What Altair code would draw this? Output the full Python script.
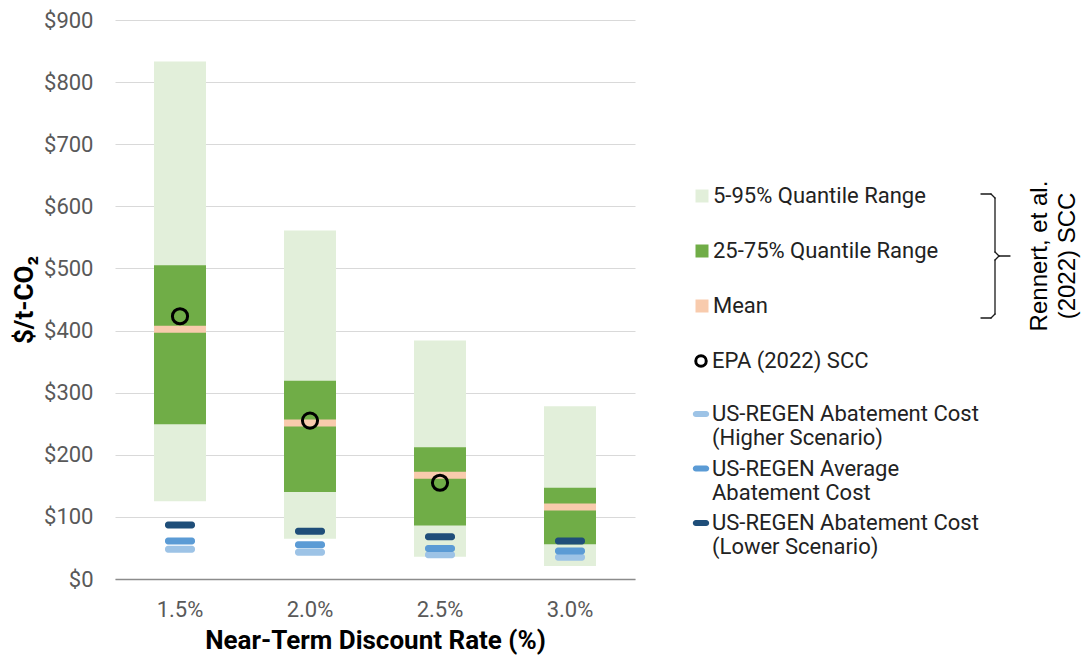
import altair as alt
import pandas as pd

# ---------------- data ----------------
rates = ["1.5%", "2.0%", "2.5%", "3.0%"]
q05 = [125, 65, 36, 21]
q95 = [833, 561, 384, 278]
q25 = [249, 140, 86, 56]
q75 = [505, 319, 212, 147]
mean_scc = [402, 251, 167, 116]

epa_rates = ["1.5%", "2.0%", "2.5%"]
epa_scc = [423, 255, 155]

regen_higher = [48, 43, 39, 35]
regen_average = [61, 55, 49, 45]
regen_lower = [87, 77, 68, 61]

y_ticks = [0, 100, 200, 300, 400, 500, 600, 700, 800, 900]

S_OUT = "5-95% Quantile Range"
S_IN = "25-75% Quantile Range"
S_MEAN = "Mean"
S_EPA = "EPA (2022) SCC"
B_HI = "US-REGEN Abatement Cost|(Higher Scenario)"
B_AVG = "US-REGEN Average|Abatement Cost"
B_LO = "US-REGEN Abatement Cost|(Lower Scenario)"

outer = pd.DataFrame({"rate": rates, "low": q05, "high": q95, "series": S_OUT})
inner = pd.DataFrame({"rate": rates, "low": q25, "high": q75, "series": S_IN})
mean_df = pd.DataFrame({"rate": rates, "low": mean_scc, "series": S_MEAN})
epa_df = pd.DataFrame({"rate": epa_rates, "low": epa_scc, "series": S_EPA})
regen_df = pd.concat([
    pd.DataFrame({"rate": rates, "low": regen_higher, "series": B_HI}),
    pd.DataFrame({"rate": rates, "low": regen_average, "series": B_AVG}),
    pd.DataFrame({"rate": rates, "low": regen_lower, "series": B_LO}),
], ignore_index=True)
dummy = pd.DataFrame({"k": [0]})

FONT = "Roboto"
LEG_FONT_SIZE = 22

fill_scale = alt.Scale(domain=[S_OUT, S_IN, S_MEAN],
                       range=["#E2EFDA", "#70AD47", "#F8CBAD"])
color_scale = alt.Scale(domain=[B_HI, B_AVG, B_LO],
                        range=["#9DC3E6", "#5B9BD5", "#1F4E79"])
stroke_scale = alt.Scale(domain=[S_EPA], range=["#000000"])

x_axis = alt.Axis(title="Near-Term Discount Rate (%)", labelAngle=0, ticks=False,
                  domainColor="#8c8c8c", domainWidth=1.5,
                  labelFont=FONT, labelFontSize=22, labelColor="#595959", labelPadding=20,
                  titleFont=FONT, titleFontSize=26, titleFontWeight="bold",
                  titleColor="#000000", titlePadding=7)
x_enc = alt.X("rate:N", sort=rates,
              scale=alt.Scale(domain=rates, paddingInner=0.6, paddingOuter=0.3),
              axis=x_axis)

y_axis = alt.Axis(title="$/t-CO₂", values=y_ticks, labelExpr="'$' + datum.value",
                  domain=False, ticks=False, grid=True, gridColor="#D9D9D9", gridWidth=1,
                  labelFont=FONT, labelFontSize=22, labelColor="#595959", labelPadding=22,
                  titleFont=FONT, titleFontSize=26, titleFontWeight="bold",
                  titleColor="#000000", titlePadding=6)
y_scale = alt.Scale(domain=[0, 900], nice=False)


def yq():
    return alt.Y("low:Q", scale=y_scale, axis=y_axis)


fill_legend = alt.Legend(title=None, orient="none", legendX=576, legendY=165,
                         symbolType="square", symbolSize=169, symbolStrokeWidth=0,
                         symbolOpacity=1,
                         labelFont=FONT, labelFontSize=LEG_FONT_SIZE, labelColor="#222222",
                         labelOffset=0, labelLimit=500, rowPadding=33, padding=0)
stroke_legend = alt.Legend(title=None, orient="none", legendX=575, legendY=330,
                           symbolType="circle", symbolSize=110, symbolStrokeWidth=3,
                           symbolFillColor="transparent", symbolOpacity=1,
                           labelFont=FONT, labelFontSize=LEG_FONT_SIZE, labelColor="#222222",
                           labelOffset=0, labelLimit=500, padding=0)
pill = ("M-0.6,-0.36 H0.6 A0.36,0.36 0 0 1 0.6,0.36 H-0.6 "
        "A0.36,0.36 0 0 1 -0.6,-0.36 Z")
color_legend = alt.Legend(title=None, orient="none", legendX=575, legendY=383,
                          symbolType=pill, symbolSize=289, symbolStrokeWidth=0,
                          symbolOpacity=1,
                          labelFont=FONT, labelFontSize=LEG_FONT_SIZE, labelColor="#222222",
                          labelExpr="split(datum.label, '|')",
                          labelOffset=0, labelLimit=500, rowPadding=8.5, padding=0)

outer_bar = alt.Chart(outer).mark_bar(opacity=1).encode(
    x=x_enc, y=yq(), y2="high:Q",
    fill=alt.Fill("series:N", scale=fill_scale, legend=fill_legend))
inner_bar = alt.Chart(inner).mark_bar(opacity=1).encode(
    x=x_enc, y=yq(), y2="high:Q",
    fill=alt.Fill("series:N", scale=fill_scale, legend=fill_legend))
mean_tick = alt.Chart(mean_df).mark_tick(size=52, thickness=7, opacity=1).encode(
    x=x_enc, y=yq(),
    fill=alt.Fill("series:N", scale=fill_scale, legend=fill_legend))
epa_pt = alt.Chart(epa_df).mark_point(filled=False, size=230, strokeWidth=3, opacity=1).encode(
    x=x_enc, y=yq(),
    stroke=alt.Stroke("series:N", scale=stroke_scale, legend=stroke_legend))
regen_tick = alt.Chart(regen_df).mark_tick(size=30, thickness=7, cornerRadius=3, opacity=1).encode(
    x=x_enc, y=yq(),
    color=alt.Color("series:N", scale=color_scale, legend=color_legend),
    order=alt.Order("series:N", sort="ascending"))


def seg(x1, y1, x2, y2):
    return alt.Chart(dummy).mark_rule(color="#1a1a1a", strokeWidth=1.3, strokeCap="round").encode(
        x=alt.value(x1), y=alt.value(y1), x2=alt.value(x2), y2=alt.value(y2))


brace = [
    seg(866, 174, 876, 174), seg(876, 174, 880, 178), seg(880, 178, 880, 232),
    seg(880, 232, 884, 236), seg(884, 236, 895, 236), seg(884, 236, 880, 240),
    seg(880, 240, 880, 294), seg(880, 294, 876, 298), seg(876, 298, 866, 298),
]

rennert = alt.Chart(dummy).mark_text(
    angle=270, font="Liberation Sans", fontSize=24, lineHeight=28,
    align="center", baseline="middle", color="#000000").encode(
    x=alt.value(925), y=alt.value(236),
    text=alt.value(["Rennert, et al.", "(2022) SCC"]))

chart = alt.layer(outer_bar, inner_bar, mean_tick, epa_pt, regen_tick, *brace, rennert).properties(
    width=520, height=559,
    autosize=alt.AutoSizeParams(type="none"),
    padding={"left": 107, "top": 12, "right": 446, "bottom": 79},
).resolve_scale(
    fill="shared", color="independent"
).configure_view(stroke=None)

chart.save("out.html", embed_options={"renderer": "svg", "actions": False})
